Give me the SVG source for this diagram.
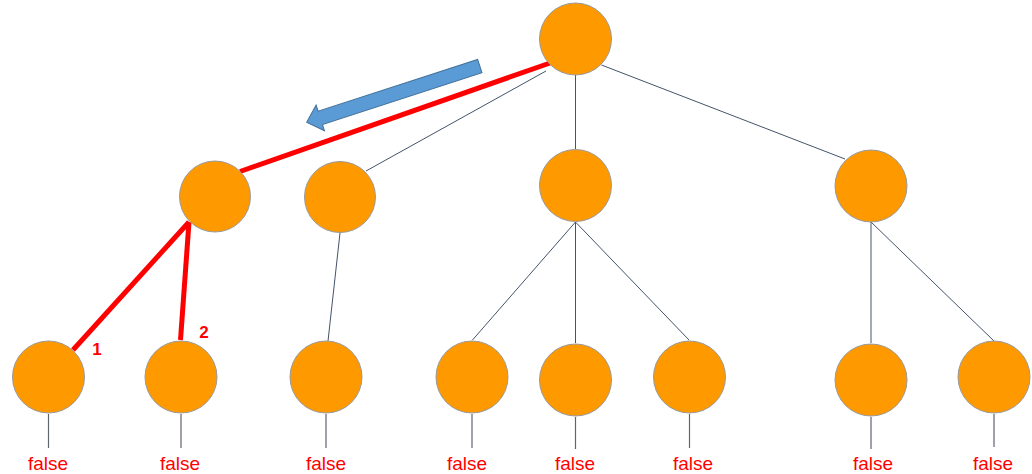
<svg xmlns="http://www.w3.org/2000/svg" width="1032" height="474" viewBox="0 0 1032 474">
<style>
.n{fill:#FF9900;stroke:#999999;stroke-width:1}
.e{stroke:#44546A;stroke-width:1;fill:none}
.s{stroke:#5F6670;stroke-width:1.2;fill:none}
.r{stroke:#FF0000;stroke-width:5;fill:none}
.t{font-family:"Liberation Sans",Arial,sans-serif;font-size:19px;fill:#FF0000;text-anchor:middle}
.k{font-family:"Liberation Sans",Arial,sans-serif;font-size:17px;font-weight:bold;fill:#FF0000;text-anchor:middle}
</style>
<rect width="1032" height="474" fill="#FFFFFF"/>
<g id="connectors">
<line class="e" x1="546" y1="71" x2="366" y2="171"/>
<line class="e" x1="575.5" y1="75" x2="575.5" y2="149"/>
<line class="e" x1="601.5" y1="65" x2="845" y2="159"/>
<line class="e" x1="340" y1="233" x2="328" y2="341"/>
<line class="e" x1="575.5" y1="222" x2="472.5" y2="340"/>
<line class="e" x1="575.5" y1="222" x2="575.5" y2="343"/>
<line class="e" x1="575.5" y1="222" x2="689" y2="340"/>
<line class="e" x1="871" y1="222" x2="871" y2="343"/>
<line class="e" x1="871" y1="222" x2="994" y2="341"/>
<line class="r" x1="550" y1="63" x2="240" y2="171.5"/>
<line class="r" x1="189" y1="222" x2="73" y2="350"/>
<line class="r" x1="189" y1="222" x2="180.5" y2="340"/>
<line class="s" x1="48.5" y1="414" x2="48.5" y2="448"/>
<line class="s" x1="181" y1="414" x2="181" y2="448"/>
<line class="s" x1="326" y1="414" x2="326" y2="448"/>
<line class="s" x1="472" y1="414" x2="472" y2="448"/>
<line class="s" x1="575.5" y1="417" x2="575.5" y2="449"/>
<line class="s" x1="689.5" y1="414" x2="689.5" y2="448"/>
<line class="s" x1="871" y1="417" x2="871" y2="449"/>
<line class="s" x1="994" y1="414" x2="994" y2="447"/>
</g>
<g id="arrow">
<polygon points="0,0 14.3,-13.5 14.3,-7 182,-7 182,7 14.3,7 14.3,13.5" transform="translate(306.7,122.3) rotate(-18)" fill="#5B9BD5" stroke="#41719C" stroke-width="1"/>
</g>
<g id="root"><circle class="n" cx="575.5" cy="39" r="36"/></g>
<g id="n1"><circle class="n" cx="215" cy="196.5" r="35.5"/></g>
<g id="n2"><circle class="n" cx="340" cy="197" r="35.5"/></g>
<g id="n3"><circle class="n" cx="575.5" cy="185.5" r="36"/></g>
<g id="n4"><circle class="n" cx="871" cy="186" r="36"/></g>
<g id="leaf1"><circle class="n" cx="48.5" cy="377" r="36"/><text class="t" x="48" y="470">false</text></g>
<g id="leaf2"><circle class="n" cx="181" cy="377" r="36"/><text class="t" x="180" y="470">false</text></g>
<g id="leaf3"><circle class="n" cx="326" cy="377" r="36"/><text class="t" x="326" y="470">false</text></g>
<g id="leaf4"><circle class="n" cx="472" cy="377" r="36"/><text class="t" x="467" y="470">false</text></g>
<g id="leaf5"><circle class="n" cx="575.5" cy="380" r="36"/><text class="t" x="575" y="470">false</text></g>
<g id="leaf6"><circle class="n" cx="689.5" cy="377" r="36"/><text class="t" x="693" y="470">false</text></g>
<g id="leaf7"><circle class="n" cx="871" cy="380" r="36"/><text class="t" x="873" y="470">false</text></g>
<g id="leaf8"><circle class="n" cx="994" cy="377" r="36"/><text class="t" x="993" y="470">false</text></g>
<g id="labels">
<text class="k" x="97" y="355">1</text>
<text class="k" x="204" y="338">2</text>
</g>
</svg>
